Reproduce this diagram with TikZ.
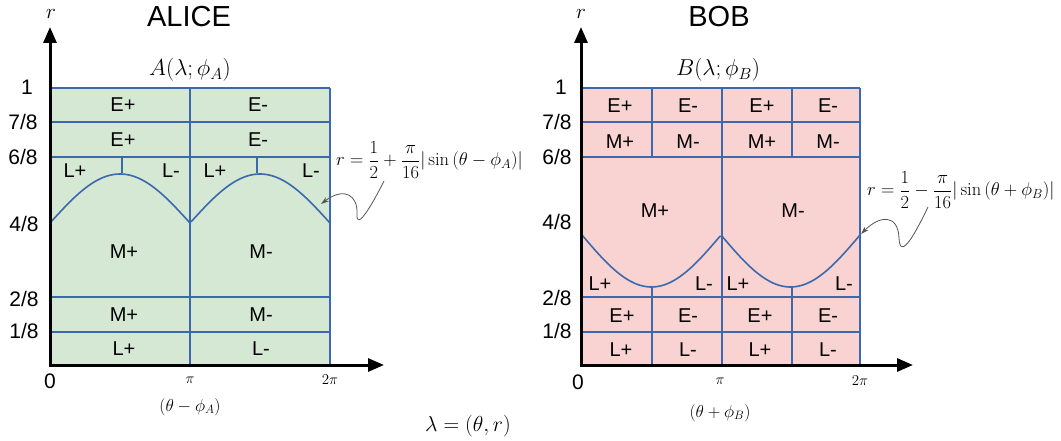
\RequirePackage{fix-cm}
\documentclass[tikz,border=0pt]{standalone}
\usepackage{fontspec}
\setsansfont{Liberation Sans}
\usetikzlibrary{arrows.meta}
\definecolor{lblue}{HTML}{3C69AE}
\definecolor{gfill}{HTML}{D5E8D4}
\definecolor{pfill}{HTML}{F9D3D1}
\definecolor{snake}{HTML}{555555}
\begin{document}
\begin{tikzpicture}[x=1pt,y=-1pt,
  grid/.style={draw=lblue,line width=1.6pt},
  thickgrid/.style={draw=lblue,line width=2.5pt},
  axis/.style={line width=3pt,-{Triangle[length=16pt,width=13pt]}},
  lab/.style={font=\sffamily\fontsize{20}{21}\selectfont,inner sep=0pt},
  ticklab/.style={font=\sffamily\fontsize{21}{22}\selectfont,inner sep=0pt},
  ttl/.style={font=\sffamily\fontsize{29}{30}\selectfont,inner sep=0pt},
  mth/.style={font=\fontsize{23}{24}\selectfont,inner sep=0pt},
  axlab/.style={font=\fontsize{17.3}{18}\selectfont,inner sep=0pt},
  smth/.style={font=\fontsize{15}{16}\selectfont,inner sep=0pt},
  fml/.style={font=\fontsize{18.5}{19}\selectfont,inner sep=0pt,anchor=west},
  snakearrow/.style={draw=snake,line width=0.8pt,-{Stealth[length=8pt,width=5pt]}}
]
\useasboundingbox (0,0) rectangle (1061,441);

% ================= ALICE =================
\fill[gfill] (51,88) rectangle (330,365);
\draw[grid] (51,88) -- (330,88) (51,122) -- (330,122) (51,157) -- (330,157);
\draw[grid] (190,88) -- (190,365) (330,88) -- (330,365);
\draw[grid] (122,157) -- (122,173) (257,157) -- (257,173);
\draw[thickgrid] (51,297) rectangle (330,332);
\draw[grid] plot[domain=51:330,samples=120] (\x,{223-49*abs(sin((\x-50)/280*360))});

\draw[axis] (50,366.5) -- (50,27);
\draw[axis] (48.5,365) -- (384,365);

\node[ttl] (alice) at (189,17) {ALICE};
\node[mth,font=\fontsize{21}{22}\selectfont] (rA) at (51,14) {$r$};
\node[mth] (Atitle) at (190,70) {$A(\lambda;\phi_A)$};

\node[ticklab] (a1) at (27,87) {1};
\node[ticklab] (a78) at (23,122) {7/8};
\node[ticklab] (a68) at (23,157) {6/8};
\node[ticklab] (a48) at (24,224) {4/8};
\node[ticklab] (a28) at (24,299) {2/8};
\node[ticklab] (a18) at (24,331) {1/8};
\node[ticklab] (a0) at (50,381) {0};
\node[smth] (api) at (190,380) {$\pi$};
\node[smth] (a2pi) at (330,380) {$2\pi$};
\node[axlab] (axl) at (190,407) {$(\theta-\phi_A)$};

\node[lab] (aE1) at (123,105) {E+};
\node[lab] (aE2) at (258,105) {E-};
\node[lab] (aE3) at (123,140) {E+};
\node[lab] (aE4) at (258,140) {E-};
\node[lab] (aL1) at (75,171) {L+};
\node[lab] (aL2) at (171,171) {L-};
\node[lab] (aL3) at (215,171) {L+};
\node[lab] (aL4) at (311,171) {L-};
\node[lab] (aM1) at (124,252) {M+};
\node[lab] (aM2) at (261,252) {M-};
\node[lab] (aM3) at (124,315) {M+};
\node[lab] (aM4) at (261,315) {M-};
\node[lab] (aL5) at (124,349) {L+};
\node[lab] (aL6) at (261,349) {L-};

\node[fml] (fA) at (336,160) {$\displaystyle r=\frac{1}{2}+\frac{\pi}{16}|\sin{(\theta-\phi_A)}|$};
\coordinate (sA) at (384,181);
\coordinate (cA) at (321,204);
\draw[snakearrow] (sA) .. controls (372,205) and (356,232) .. (357,214)
  .. controls (358,196) and (345,186) .. (cA);

% ================= BOB =================
\fill[pfill] (582,88) rectangle (860,365);
\draw[grid] (582,88) -- (860,88) (582,122) -- (860,122) (582,157) -- (860,157);
\draw[grid] (652,88) -- (652,157) (792,88) -- (792,157);
\draw[grid] (722,88) -- (722,365) (860,88) -- (860,365);
\draw[grid] (582,297) -- (860,297) (582,332) -- (860,332);
\draw[grid] (652,287) -- (652,365) (792,287) -- (792,365);
\draw[thickgrid] (582,332) rectangle (652,365) (722,332) rectangle (792,365);
\draw[grid] plot[domain=582:860,samples=120] (\x,{235+52*abs(sin((\x-582)/278*360))});

\draw[axis] (581,366.5) -- (581,27);
\draw[axis] (579.5,365) -- (913,365);

\node[ttl] (bob) at (719,17) {BOB};
\node[mth,font=\fontsize{21}{22}\selectfont] (rB) at (581,14) {$r$};
\node[mth] (Btitle) at (718,70) {$B(\lambda;\phi_B)$};

\node[ticklab] (b1) at (561,87) {1};
\node[ticklab] (b78) at (557,122) {7/8};
\node[ticklab] (b68) at (557,157) {6/8};
\node[ticklab] (b48) at (557,222) {4/8};
\node[ticklab] (b28) at (557,298) {2/8};
\node[ticklab] (b18) at (557,331) {1/8};
\node[ticklab] (b0) at (578,382) {0};
\node[smth] (bpi) at (720,381) {$\pi$};
\node[smth] (b2pi) at (860,381) {$2\pi$};
\node[axlab] (bxl) at (720,413) {$(\theta+\phi_B)$};

\node[lab] (bE1) at (620,106) {E+};
\node[lab] (bE2) at (688,106) {E-};
\node[lab] (bE3) at (762,106) {E+};
\node[lab] (bE4) at (828,106) {E-};
\node[lab] (bM1) at (620,142) {M+};
\node[lab] (bM2) at (688,142) {M-};
\node[lab] (bM3) at (762,142) {M+};
\node[lab] (bM4) at (828,142) {M-};
\node[lab] (bM5) at (655,211) {M+};
\node[lab] (bM6) at (793,211) {M-};
\node[lab] (bL1) at (600,284) {L+};
\node[lab] (bL2) at (704,284) {L-};
\node[lab] (bL3) at (738,284) {L+};
\node[lab] (bL4) at (844,284) {L-};
\node[lab] (bE5) at (622,316) {E+};
\node[lab] (bE6) at (688,316) {E-};
\node[lab] (bE7) at (760,316) {E+};
\node[lab] (bE8) at (828,316) {E-};
\node[lab] (bL5) at (621,350) {L+};
\node[lab] (bL6) at (688,350) {L-};
\node[lab] (bL7) at (760,350) {L+};
\node[lab] (bL8) at (828,350) {L-};

\node[fml] (fB) at (867,190) {$\displaystyle r=\frac{1}{2}-\frac{\pi}{16}|\sin{(\theta+\phi_B)}|$};
\coordinate (sB) at (928,207);
\coordinate (cB) at (861,234);
\draw[snakearrow] (sB) .. controls (916,232) and (900,262) .. (899,238)
  .. controls (898,214) and (880,215) .. (cB);

% ================= common =================
\node[mth,font=\fontsize{21.7}{22}\selectfont] (lam) at (468,426) {$\lambda=(\theta,r)$};
\end{tikzpicture}
\end{document}
